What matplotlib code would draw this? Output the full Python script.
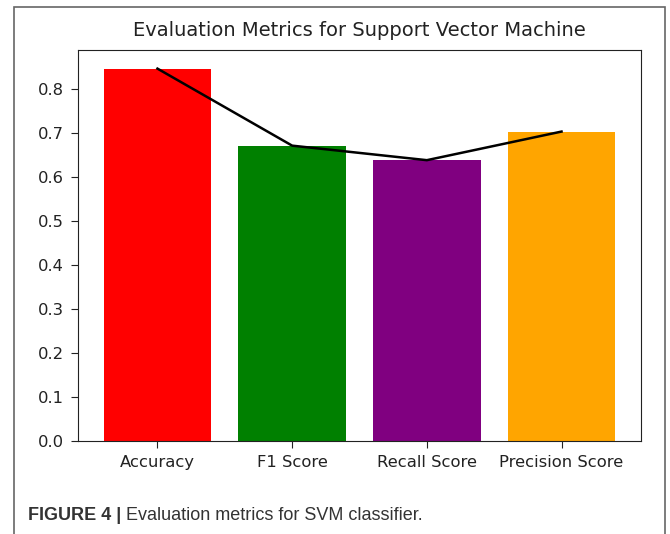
import matplotlib
matplotlib.use("Agg")
import matplotlib.pyplot as plt
from matplotlib.patches import Rectangle

# metric names and scores
metrics = ["Accuracy", "F1 Score", "Recall Score", "Precision Score"]
scores = [0.846, 0.671, 0.638, 0.703]
bar_colors = ["red", "green", "purple", "orange"]
y_ticks = [0.0, 0.1, 0.2, 0.3, 0.4, 0.5, 0.6, 0.7, 0.8]

W, H = 670, 534
fig = plt.figure(figsize=(W / 100, H / 100), dpi=100)

# gray frame round the figure panel (open at the bottom edge of the crop)
frame = Rectangle(
    (14 / W, -0.05), (665 - 14) / W, 1.05 - 7 / H,
    transform=fig.transFigure, facecolor="none", edgecolor="#666666", linewidth=1.2,
)
fig.patches.append(frame)

ax = fig.add_axes([78 / W, 1 - 441 / H, (641 - 78) / W, (441 - 50) / H])
ax.bar(metrics, scores, color=bar_colors)
ax.plot(metrics, scores, color="black", linewidth=1.8)

ax.set_yticks(y_ticks)
ax.set_title("Evaluation Metrics for Support Vector Machine",
             fontsize=14, color="#222222", pad=10)
ax.tick_params(length=5, pad=5, labelsize=11.8, colors="#222222")
for sp in ax.spines.values():
    sp.set_color("#222222")

# caption under the chart: bold lead-in then regular text
cap_y = (H - 520.5) / H
lead = fig.text(28 / W, cap_y, "FIGURE 4 |", fontsize=13, fontweight="bold",
                family="Liberation Sans", color="#333333", va="baseline")
fig.canvas.draw()
bb = lead.get_window_extent().transformed(fig.transFigure.inverted())
fig.text(bb.x1 + 5 / W, cap_y, "Evaluation metrics for SVM classifier.", fontsize=13,
         family="Liberation Sans", color="#333333", va="baseline")

fig.savefig("out.png", dpi=100)
